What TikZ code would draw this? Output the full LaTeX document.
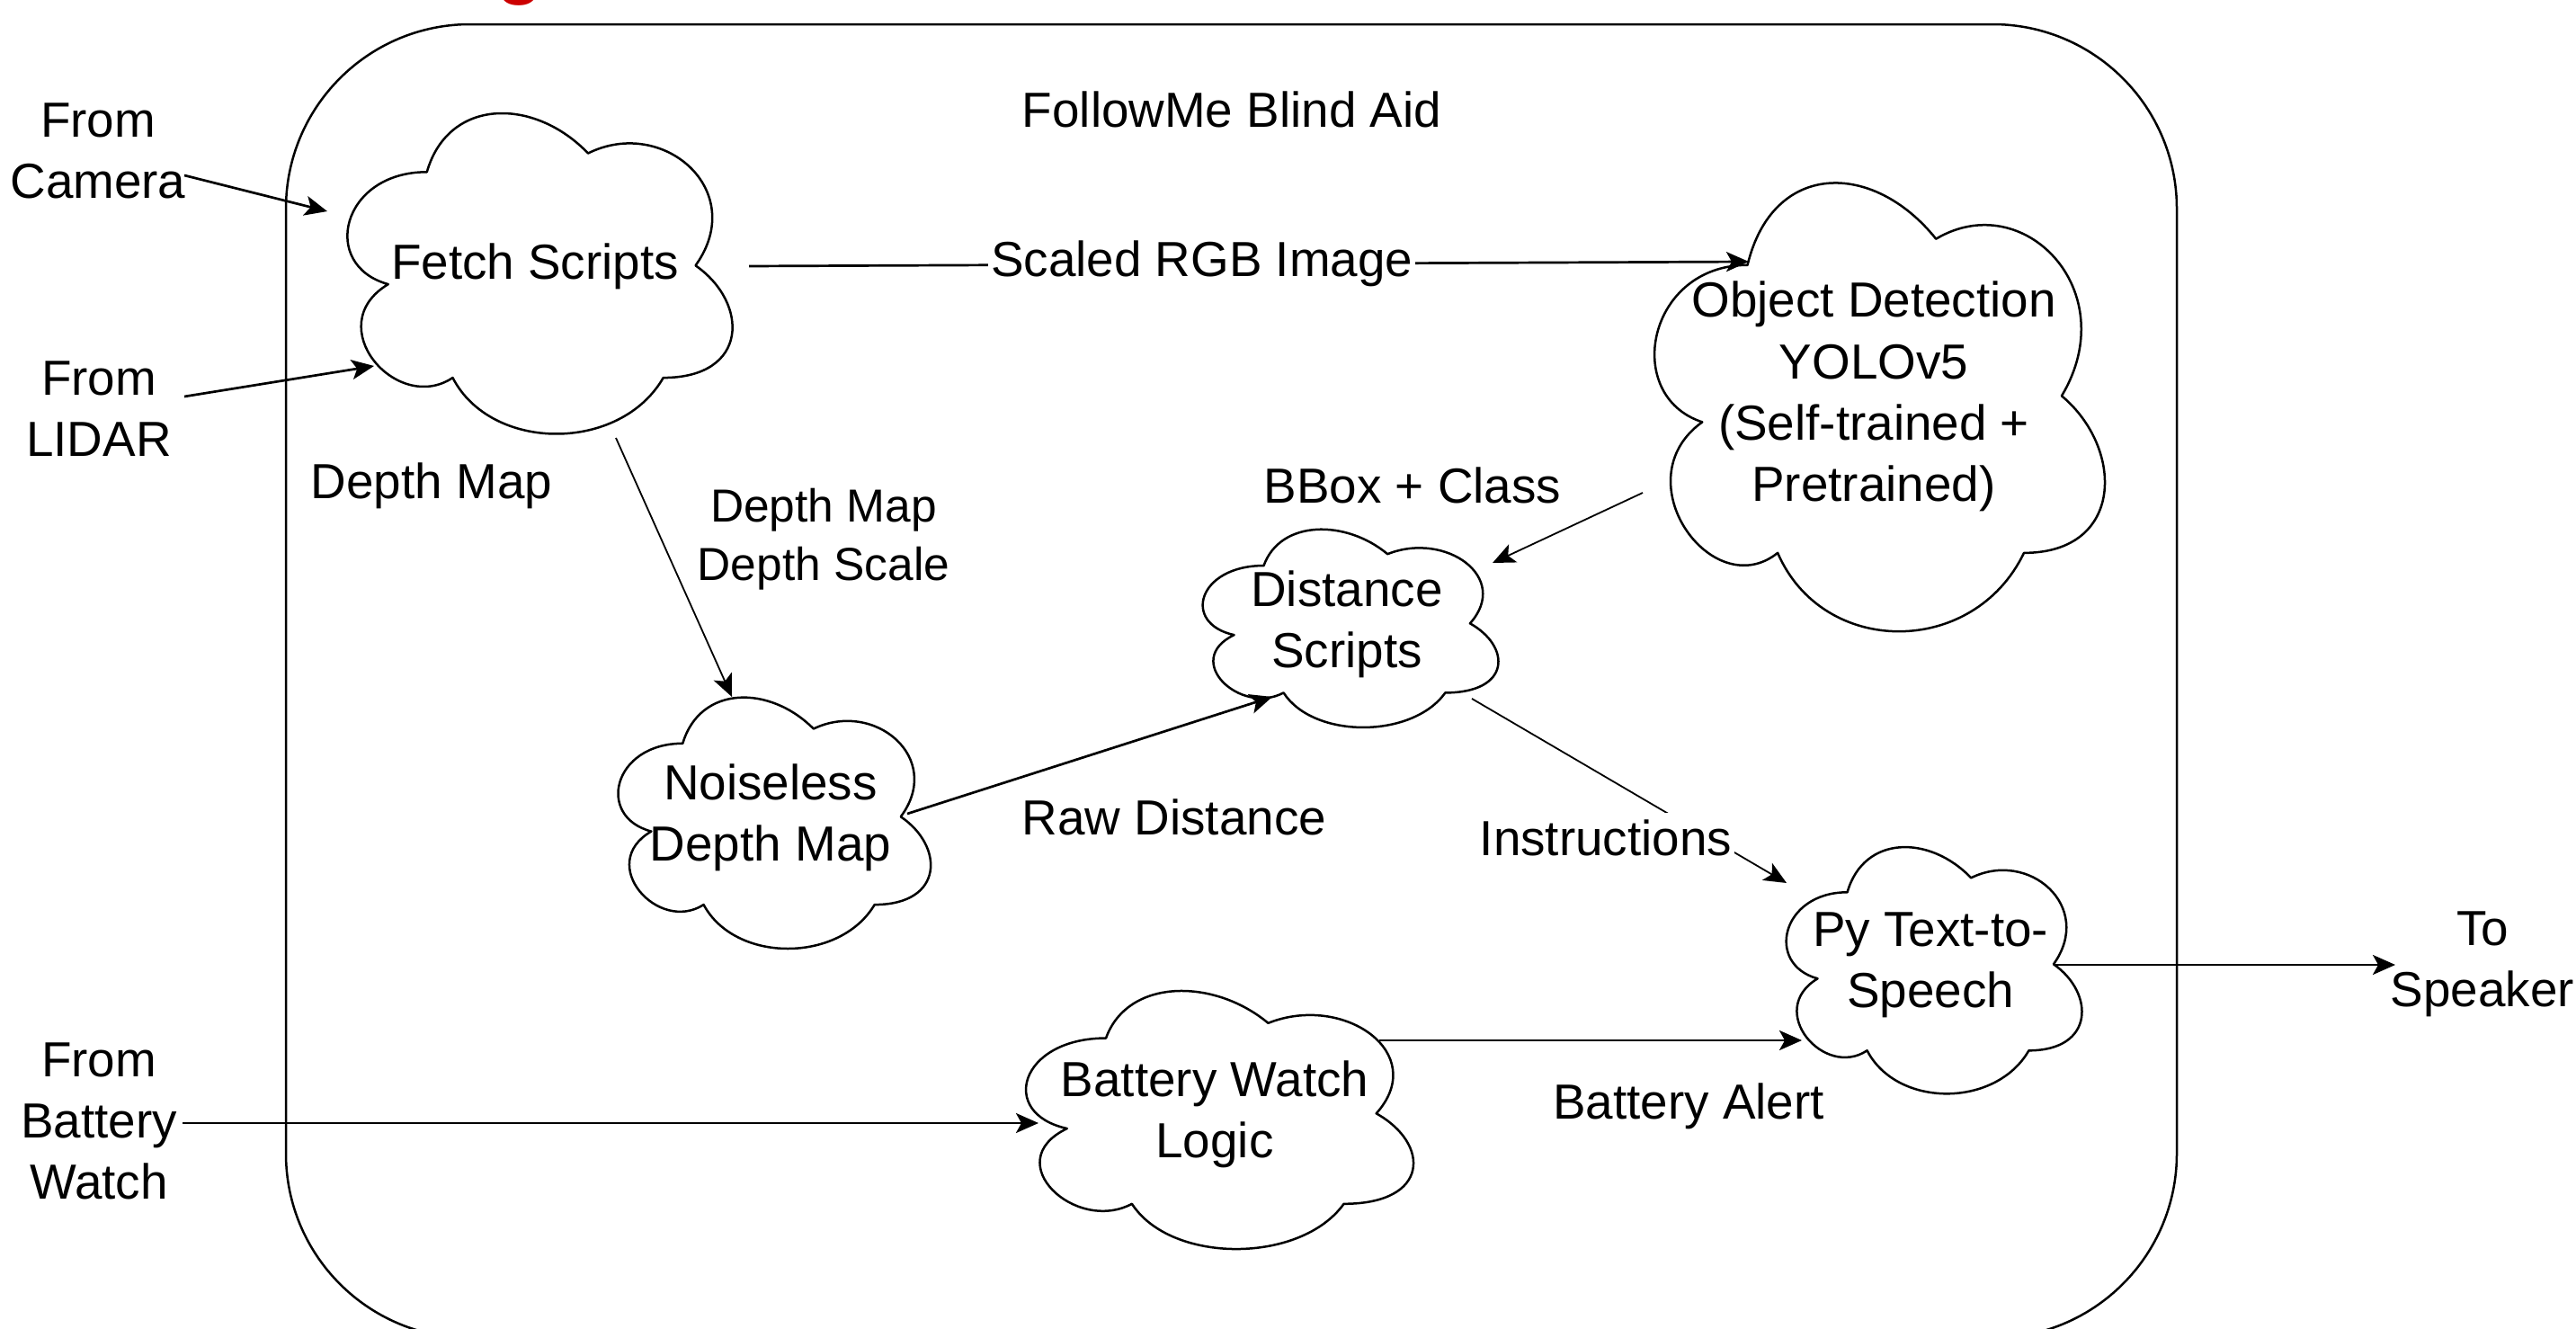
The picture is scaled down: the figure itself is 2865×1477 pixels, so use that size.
\documentclass[tikz,border=0pt]{standalone}
\usepackage{fontspec}
\setmainfont{Liberation Sans}
\usetikzlibrary{arrows.meta,calc}
\definecolor{titlered}{RGB}{204,0,0}
\tikzset{
  lbl/.style={inner sep=0pt, align=center, font=\fontsize{15.6}{19.4}\selectfont},
  smalllbl/.style={inner sep=0pt, align=center, font=\fontsize{14.65}{18.5}\selectfont},
  onlinelbl/.style={lbl, fill=white, inner xsep=0.3mm, inner ysep=0.8mm},
  conn/.style={line width=0.27mm, -{Stealth[length=2.5mm,width=2.2mm,inset=0.6mm]}},
  thinconn/.style={conn, line width=0.18mm},
  cloudline/.style={line width=0.25mm, line join=round},
  sysbox/.style={draw, line width=0.25mm, rounded corners=20.5mm, inner sep=0pt},
}
\newcommand\cloudpath[3]{%
  \draw[cloudline, shift={(#1.north west)}, xscale=#2, yscale=#3]
    (0.25,0.25) .. controls (0.05,0.25) and (0,0.5) .. (0.16,0.55)
    .. controls (0,0.66) and (0.18,0.9) .. (0.31,0.8)
    .. controls (0.4,1) and (0.7,1) .. (0.8,0.8)
    .. controls (1,0.8) and (1,0.6) .. (0.875,0.5)
    .. controls (1,0.3) and (0.8,0.1) .. (0.625,0.2)
    .. controls (0.5,0.05) and (0.3,0.05) .. (0.25,0.25) -- cycle;}
\begin{document}
\begin{tikzpicture}[x=0.1mm,y=-0.1mm]
\useasboundingbox (0,0) rectangle (2865,1477);
\fill[white] (0,0) rectangle (2865,1477);

% cut-off red title fragment
\node[anchor=base, inner sep=0pt, text=titlered, font=\fontsize{24}{24}\selectfont\bfseries] (titlefrag) at (578,-11) {g};

% system boundary
\node[sysbox, minimum width=210.3mm, minimum height=146.1mm] (sys) at (1369.5,757.5) {};
\node[lbl] (title) at (1370,122) {FollowMe Blind Aid};

% clouds
\node[lbl, minimum width=47.8mm, minimum height=41.6mm] (fetch) at (595,296) {Fetch Scripts};
\cloudpath{fetch}{478}{416}
\node[lbl, minimum width=55.9mm, minimum height=58.2mm] (od) at (2084,441) {Object Detection\\YOLOv5\\(Self-trained +\\Pretrained)};
\cloudpath{od}{559}{582}
\node[lbl, minimum width=38.8mm, minimum height=32.6mm] (noise) at (857,909) {Noiseless\\Depth Map};
\cloudpath{noise}{388}{326}
\node[lbl, minimum width=36.7mm, minimum height=25.7mm] (dist) at (1498,694) {Distance\\Scripts};
\cloudpath{dist}{367}{257}
\node[lbl, minimum width=36.7mm, minimum height=32mm] (tts) at (2147,1073) {Py Text-to-\\Speech};
\cloudpath{tts}{367}{320}
\node[lbl, minimum width=48.1mm, minimum height=33.5mm] (bw) at (1351,1239) {Battery Watch\\Logic};
\cloudpath{bw}{481}{335}

% outside texts
\node[lbl] (fromcam) at (109,168) {From\\Camera};
\node[lbl] (fromlidar) at (110,455) {From\\LIDAR};
\node[lbl] (frombw) at (110,1247) {From\\Battery\\Watch};
\node[lbl] (speaker) at (2761,1072) {To\\Speaker};

% free labels
\node[lbl] (dmlbl) at (480,540) {Depth Map};
\node[smalllbl] (dmslbl) at (916,600) {Depth Map\\Depth Scale};
\node[lbl] (bboxlbl) at (1571,540) {BBox + Class};
\node[lbl] (rawlbl) at (1306,909) {Raw Distance};
\node[lbl] (alertlbl) at (1878,1230) {Battery Alert};

% connectors
\draw[conn] ([shift={(96,27)}]fromcam.center) -- ([shift={(-231,-61)}]fetch.center);
\draw[conn] ([shift={(95,-14)}]fromlidar.center) -- ([shift={(-179,111)}]fetch.center);
\draw[conn] ([shift={(238,0)}]fetch.center) -- ([shift={(-139,-150)}]od.center)
  node[onlinelbl, pos=0.453] (rgblbl) {Scaled RGB Image};
\draw[thinconn] ([shift={(90,191)}]fetch.center) -- ([shift={(-43,-134)}]noise.center);
\draw[thinconn] ([shift={(-257,107)}]od.center) -- ([shift={(162,-68)}]dist.center);
\draw[conn] ([shift={(152,-4)}]noise.center) -- ([shift={(-83,81)}]dist.center);
\draw[thinconn] ([shift={(139,83)}]dist.center) -- ([shift={(-160,-91)}]tts.center);
\node[onlinelbl] (instlbl) at (1786,932) {Instructions};
\draw[conn] ([shift={(93,2)}]frombw.center) -- ([shift={(-196,10)}]bw.center);
\draw[conn] ([shift={(183,-82)}]bw.center) -- ([shift={(-143,84)}]tts.center);
\draw[conn] ([shift={(139,0)}]tts.center) -- ([shift={(-97,1)}]speaker.center);
\end{tikzpicture}
\end{document}
